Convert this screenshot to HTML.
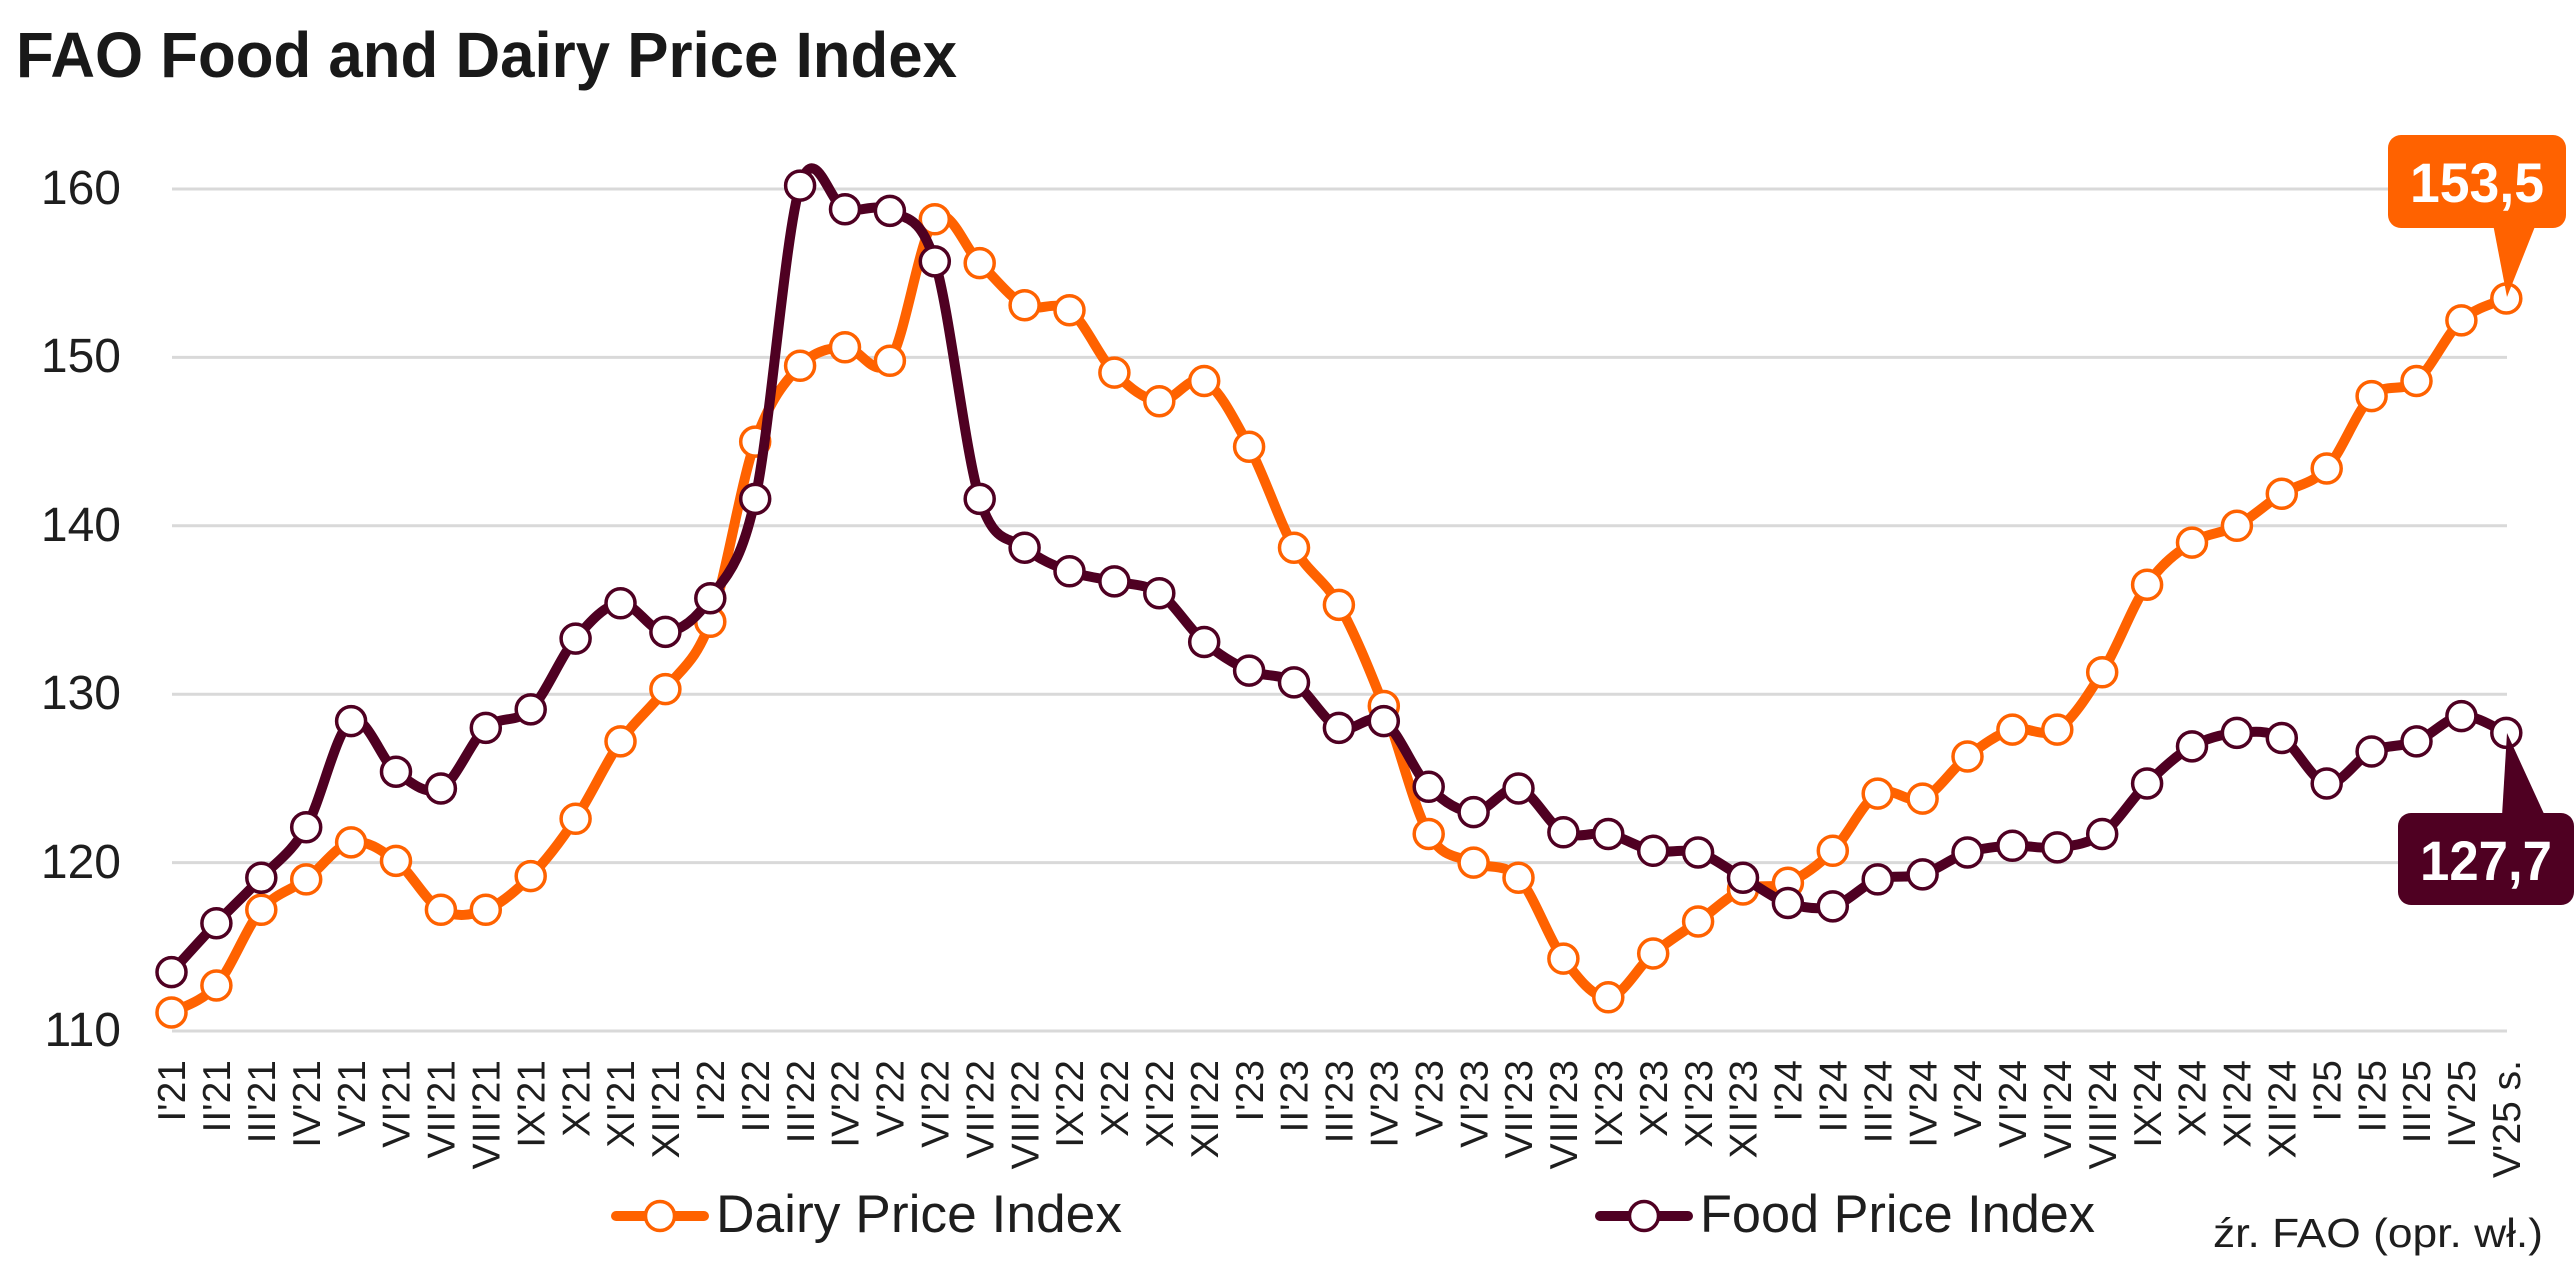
<!DOCTYPE html>
<html>
<head>
<meta charset="utf-8">
<style>
  html,body{margin:0;padding:0;background:#fff;}
  body{width:2575px;height:1274px;overflow:hidden;}
  svg{display:block;}
  text{font-family:"Liberation Sans",sans-serif;}
</style>
</head>
<body>
<svg id="chart" xmlns="http://www.w3.org/2000/svg" width="2575" height="1274" viewBox="0 0 2575 1274">
  <rect x="0" y="0" width="2575" height="1274" fill="#ffffff"/>
  <!-- Title -->
  <text x="16" y="77" font-size="64" font-weight="bold" fill="#191919" textLength="941" lengthAdjust="spacingAndGlyphs">FAO Food and Dairy Price Index</text>

  <!-- gridlines -->
  <g stroke="#d9d9d9" stroke-width="3">
    <line x1="172" y1="189" x2="2507" y2="189"/>
    <line x1="172" y1="357.4" x2="2507" y2="357.4"/>
    <line x1="172" y1="525.8" x2="2507" y2="525.8"/>
    <line x1="172" y1="694.2" x2="2507" y2="694.2"/>
    <line x1="172" y1="862.6" x2="2507" y2="862.6"/>
    <line x1="172" y1="1031" x2="2507" y2="1031"/>
  </g>

  <!-- y labels -->
  <g font-size="48" fill="#1e1e1e" text-anchor="end">
    <text x="121" y="204">160</text>
    <text x="121" y="372">150</text>
    <text x="121" y="541">140</text>
    <text x="121" y="709">130</text>
    <text x="121" y="878">120</text>
    <text x="121" y="1046">110</text>
  </g>

  <!-- x labels -->
  <g font-size="39" fill="#1e1e1e" text-anchor="end">
    <text transform="translate(171.5,1060) rotate(-90)" dy="0.35em">I'21</text>
    <text transform="translate(216.4,1060) rotate(-90)" dy="0.35em">II'21</text>
    <text transform="translate(261.3,1060) rotate(-90)" dy="0.35em">III'21</text>
    <text transform="translate(306.2,1060) rotate(-90)" dy="0.35em">IV'21</text>
    <text transform="translate(351.1,1060) rotate(-90)" dy="0.35em">V'21</text>
    <text transform="translate(396.0,1060) rotate(-90)" dy="0.35em">VI'21</text>
    <text transform="translate(440.9,1060) rotate(-90)" dy="0.35em">VII'21</text>
    <text transform="translate(485.8,1060) rotate(-90)" dy="0.35em">VIII'21</text>
    <text transform="translate(530.7,1060) rotate(-90)" dy="0.35em">IX'21</text>
    <text transform="translate(575.6,1060) rotate(-90)" dy="0.35em">X'21</text>
    <text transform="translate(620.5,1060) rotate(-90)" dy="0.35em">XI'21</text>
    <text transform="translate(665.4,1060) rotate(-90)" dy="0.35em">XII'21</text>
    <text transform="translate(710.3,1060) rotate(-90)" dy="0.35em">I'22</text>
    <text transform="translate(755.2,1060) rotate(-90)" dy="0.35em">II'22</text>
    <text transform="translate(800.1,1060) rotate(-90)" dy="0.35em">III'22</text>
    <text transform="translate(845.0,1060) rotate(-90)" dy="0.35em">IV'22</text>
    <text transform="translate(889.9,1060) rotate(-90)" dy="0.35em">V'22</text>
    <text transform="translate(934.8,1060) rotate(-90)" dy="0.35em">VI'22</text>
    <text transform="translate(979.7,1060) rotate(-90)" dy="0.35em">VII'22</text>
    <text transform="translate(1024.6,1060) rotate(-90)" dy="0.35em">VIII'22</text>
    <text transform="translate(1069.5,1060) rotate(-90)" dy="0.35em">IX'22</text>
    <text transform="translate(1114.4,1060) rotate(-90)" dy="0.35em">X'22</text>
    <text transform="translate(1159.3,1060) rotate(-90)" dy="0.35em">XI'22</text>
    <text transform="translate(1204.2,1060) rotate(-90)" dy="0.35em">XII'22</text>
    <text transform="translate(1249.1,1060) rotate(-90)" dy="0.35em">I'23</text>
    <text transform="translate(1294.0,1060) rotate(-90)" dy="0.35em">II'23</text>
    <text transform="translate(1338.9,1060) rotate(-90)" dy="0.35em">III'23</text>
    <text transform="translate(1383.8,1060) rotate(-90)" dy="0.35em">IV'23</text>
    <text transform="translate(1428.7,1060) rotate(-90)" dy="0.35em">V'23</text>
    <text transform="translate(1473.6,1060) rotate(-90)" dy="0.35em">VI'23</text>
    <text transform="translate(1518.5,1060) rotate(-90)" dy="0.35em">VII'23</text>
    <text transform="translate(1563.4,1060) rotate(-90)" dy="0.35em">VIII'23</text>
    <text transform="translate(1608.3,1060) rotate(-90)" dy="0.35em">IX'23</text>
    <text transform="translate(1653.2,1060) rotate(-90)" dy="0.35em">X'23</text>
    <text transform="translate(1698.1,1060) rotate(-90)" dy="0.35em">XI'23</text>
    <text transform="translate(1743.0,1060) rotate(-90)" dy="0.35em">XII'23</text>
    <text transform="translate(1787.9,1060) rotate(-90)" dy="0.35em">I'24</text>
    <text transform="translate(1832.8,1060) rotate(-90)" dy="0.35em">II'24</text>
    <text transform="translate(1877.7,1060) rotate(-90)" dy="0.35em">III'24</text>
    <text transform="translate(1922.6,1060) rotate(-90)" dy="0.35em">IV'24</text>
    <text transform="translate(1967.5,1060) rotate(-90)" dy="0.35em">V'24</text>
    <text transform="translate(2012.4,1060) rotate(-90)" dy="0.35em">VI'24</text>
    <text transform="translate(2057.3,1060) rotate(-90)" dy="0.35em">VII'24</text>
    <text transform="translate(2102.2,1060) rotate(-90)" dy="0.35em">VIII'24</text>
    <text transform="translate(2147.1,1060) rotate(-90)" dy="0.35em">IX'24</text>
    <text transform="translate(2192.0,1060) rotate(-90)" dy="0.35em">X'24</text>
    <text transform="translate(2236.9,1060) rotate(-90)" dy="0.35em">XI'24</text>
    <text transform="translate(2281.8,1060) rotate(-90)" dy="0.35em">XII'24</text>
    <text transform="translate(2326.7,1060) rotate(-90)" dy="0.35em">I'25</text>
    <text transform="translate(2371.6,1060) rotate(-90)" dy="0.35em">II'25</text>
    <text transform="translate(2416.5,1060) rotate(-90)" dy="0.35em">III'25</text>
    <text transform="translate(2461.4,1060) rotate(-90)" dy="0.35em">IV'25</text>
    <text transform="translate(2506.3,1060) rotate(-90)" dy="0.35em">V'25 s.</text>
  </g>

  <!-- series (filled by script) -->
  <g id="series"></g>

  <!-- callouts -->
  <rect x="2388" y="135" width="178" height="93" rx="13" ry="13" fill="#ff6200"/>
  <polygon points="2493,224 2536,224 2507,297" fill="#ff6200"/>
  <text x="2477" y="202" font-size="56" font-weight="bold" fill="#ffffff" text-anchor="middle" textLength="134" lengthAdjust="spacingAndGlyphs">153,5</text>

  <rect x="2398" y="813" width="176" height="92" rx="13" ry="13" fill="#4f0022"/>
  <polygon points="2502,816 2545,816 2507,733" fill="#4f0022"/>
  <text x="2486" y="880" font-size="56" font-weight="bold" fill="#ffffff" text-anchor="middle" textLength="132" lengthAdjust="spacingAndGlyphs">127,7</text>

  <!-- legend -->
  <line x1="616" y1="1216" x2="704" y2="1216" stroke="#ff6200" stroke-width="10" stroke-linecap="round"/>
  <circle cx="660" cy="1216" r="14.5" fill="#ffffff" stroke="#ff6200" stroke-width="3.5"/>
  <text x="716" y="1232" font-size="53" fill="#1e1e1e" textLength="406" lengthAdjust="spacingAndGlyphs">Dairy Price Index</text>

  <line x1="1600" y1="1216" x2="1688" y2="1216" stroke="#4f0022" stroke-width="10" stroke-linecap="round"/>
  <circle cx="1644" cy="1216" r="14.5" fill="#ffffff" stroke="#4f0022" stroke-width="3.5"/>
  <text x="1700" y="1232" font-size="53" fill="#1e1e1e" textLength="395" lengthAdjust="spacingAndGlyphs">Food Price Index</text>

  <text x="2213" y="1247" font-size="41" fill="#1e1e1e" textLength="330" lengthAdjust="spacingAndGlyphs">źr. FAO (opr. wł.)</text>
</svg>
<script>
(function(){
  var NS="http://www.w3.org/2000/svg";
  var X0=171.5, DX=44.9;
  function X(i){return X0+i*DX;}
  function Y(v){return 189+(160-v)*16.84;}
  var dairy=[111.1,112.7,117.2,119.0,121.2,120.1,117.2,117.2,119.2,122.6,127.2,130.3,
             134.3,145.0,149.5,150.6,149.8,158.2,155.6,153.1,152.8,149.1,147.4,148.6,
             144.7,138.7,135.3,129.3,121.7,120.0,119.1,114.3,112.0,114.6,116.5,118.4,
             118.8,120.7,124.1,123.8,126.3,127.9,127.9,131.3,136.5,139.0,140.0,141.9,
             143.4,147.7,148.6,152.2,153.5];
  var food=[113.5,116.4,119.1,122.1,128.4,125.4,124.4,128.0,129.1,133.3,135.4,133.7,
            135.7,141.6,160.2,158.8,158.7,155.7,141.6,138.7,137.3,136.7,136.0,133.1,
            131.4,130.7,128.0,128.4,124.5,123.0,124.4,121.8,121.7,120.7,120.6,119.1,
            117.6,117.4,119.0,119.3,120.6,121.0,120.9,121.7,124.7,126.9,127.7,127.4,
            124.7,126.6,127.2,128.7,127.7];
  function path(vals){
    var p=vals.map(function(v,i){return [X(i),Y(v)];});
    var d="M"+p[0][0].toFixed(1)+","+p[0][1].toFixed(1);
    for(var i=0;i<p.length-1;i++){
      var p0=p[i-1]||p[i], p1=p[i], p2=p[i+1], p3=p[i+2]||p[i+1];
      var c1x=p1[0]+(p2[0]-p0[0])/6, c1y=p1[1]+(p2[1]-p0[1])/6;
      var c2x=p2[0]-(p3[0]-p1[0])/6, c2y=p2[1]-(p3[1]-p1[1])/6;
      d+=" C"+c1x.toFixed(1)+","+c1y.toFixed(1)+" "+c2x.toFixed(1)+","+c2y.toFixed(1)+" "+p2[0].toFixed(1)+","+p2[1].toFixed(1);
    }
    return d;
  }
  var g=document.getElementById("series");
  function draw(vals,color){
    var pe=document.createElementNS(NS,"path");
    pe.setAttribute("d",path(vals));
    pe.setAttribute("fill","none");
    pe.setAttribute("stroke",color);
    pe.setAttribute("stroke-width","10");
    pe.setAttribute("stroke-linejoin","round");
    pe.setAttribute("stroke-linecap","round");
    g.appendChild(pe);
    vals.forEach(function(v,i){
      var c=document.createElementNS(NS,"circle");
      c.setAttribute("cx",X(i).toFixed(1));
      c.setAttribute("cy",Y(v).toFixed(1));
      c.setAttribute("r","14.5");
      c.setAttribute("fill","#ffffff");
      c.setAttribute("stroke",color);
      c.setAttribute("stroke-width","3.5");
      g.appendChild(c);
    });
  }
  draw(dairy,"#ff6200");
  draw(food,"#4f0022");
})();
</script>
</body>
</html>
